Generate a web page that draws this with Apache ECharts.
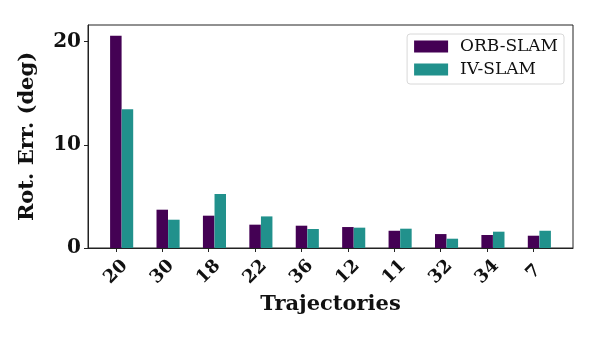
<!DOCTYPE html>
<html>
<head>
<meta charset="utf-8">
<script src="https://cdn.jsdelivr.net/npm/echarts@6/dist/echarts.min.js"></script>
<style>
  html, body { margin: 0; padding: 0; background: #fff; }
  #chart { width: 598px; height: 342px; }
</style>
</head>
<body>
<div id="chart"></div>
<script>
// trajectories on the x axis, in plotted order
const trajectories = ['20', '30', '18', '22', '36', '12', '11', '32', '34', '7']
const orbSlam = [20.55, 3.71, 3.13, 2.26, 2.16, 2.03, 1.67, 1.35, 1.26, 1.19]
const ivSlam = [13.45, 2.74, 5.23, 3.06, 1.84, 1.97, 1.87, 0.9, 1.58, 1.67]
const yTicks = [0, 10, 20]

const serif = 'DejaVu Serif'
const barOffset = 0.25 // second bar sits one bar-width to the right

const chart = echarts.init(document.getElementById('chart'))

const xIdx = trajectories.map((t, i) => i)

chart.setOption({
  animation: false,
  grid: {
    left: 88,
    top: 25,
    right: 25,
    bottom: 94,
    show: true,
    borderColor: '#222',
    borderWidth: 1
  },
  legend: {
    orient: 'vertical',
    right: 34,
    top: 34,
    icon: 'rect',
    itemWidth: 34,
    itemHeight: 12,
    itemGap: 6,
    padding: [4, 6, 6, 7],
    backgroundColor: '#fff',
    borderColor: '#d8d8d8',
    borderWidth: 1,
    borderRadius: 3,
    textStyle: { fontFamily: serif, fontSize: 17, color: '#111', padding: [0, 0, 0, 7] },
    data: ['ORB-SLAM', 'IV-SLAM']
  },
  xAxis: {
    type: 'value',
    min: -0.6,
    max: 9.85,
    name: 'Trajectories',
    nameLocation: 'middle',
    nameGap: 45,
    nameTextStyle: { fontFamily: serif, fontWeight: 'bold', fontSize: 21, color: '#111' },
    axisLine: { show: true, onZero: false, lineStyle: { color: '#222', width: 1 } },
    axisTick: { show: true, length: 4, customValues: xIdx, lineStyle: { color: '#222' } },
    axisLabel: {
      customValues: xIdx,
      formatter: v => trajectories[Math.round(v)],
      rotate: 45,
      align: 'center',
      verticalAlign: 'middle',
      margin: 24,
      fontFamily: serif,
      fontWeight: 'bold',
      fontSize: 18,
      color: '#111'
    },
    splitLine: { show: false }
  },
  yAxis: {
    type: 'value',
    min: 0,
    max: 21.6,
    name: 'Rot. Err. (deg)',
    nameLocation: 'middle',
    nameGap: 50,
    nameTextStyle: { fontFamily: serif, fontWeight: 'bold', fontSize: 21, color: '#111' },
    axisLine: { show: true, onZero: false, lineStyle: { color: '#222', width: 1 } },
    axisTick: { show: true, length: 4, customValues: yTicks, lineStyle: { color: '#222' } },
    axisLabel: {
      customValues: yTicks,
      margin: 7,
      fontFamily: serif,
      fontWeight: 'bold',
      fontSize: 20,
      color: '#111'
    },
    splitLine: { show: false }
  },
  series: [
    {
      name: 'ORB-SLAM',
      type: 'bar',
      barWidth: 11.5,
      barGap: '-100%',
      itemStyle: { color: '#440154' },
      data: orbSlam.map((v, i) => [i, v])
    },
    {
      name: 'IV-SLAM',
      type: 'bar',
      barWidth: 11.5,
      barGap: '-100%',
      itemStyle: { color: '#21918c' },
      data: ivSlam.map((v, i) => [i + barOffset, v])
    }
  ]
})
</script>
</body>
</html>
